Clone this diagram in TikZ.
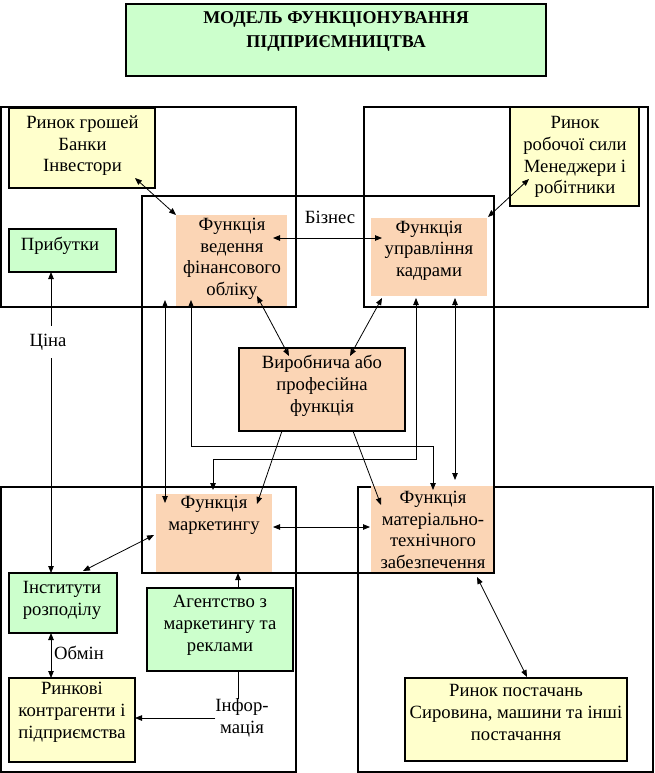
\documentclass[tikz,border=0pt]{standalone}
\usepackage{fontspec}
\setmainfont{Liberation Serif}
\usetikzlibrary{arrows.meta,calc}
\definecolor{peach}{RGB}{251,213,181}
\definecolor{lyellow}{RGB}{255,255,204}
\definecolor{lgreen}{RGB}{204,255,204}
\begin{document}
\begin{tikzpicture}[x=1pt,y=-1pt,
  every node/.style={inner sep=0pt, outer sep=0pt},
  txt/.style={align=center, font=\fontsize{18.67}{21.8}\selectfont},
  ybox/.style={draw=black, line width=1.1pt, fill=lyellow},
  gbox/.style={draw=black, line width=1.1pt, fill=lgreen},
  pbox/.style={fill=peach},
  pboxd/.style={draw=black, line width=1.1pt, fill=peach},
  frame/.style={draw=black, line width=1.2pt},
  arr/.style={line width=0.8pt, -{Triangle[length=7pt,width=5.5pt]}},
  darr/.style={line width=0.8pt, {Triangle[length=7pt,width=5.5pt]}-{Triangle[length=7pt,width=5.5pt]}},
]
\useasboundingbox[fill=white] (0,0) rectangle (655,773);

% title
\node[draw=black, line width=2.5pt, fill=lgreen, minimum width=420pt, minimum height=72pt] (title) at (336,40) {};
\node[align=center, font=\bfseries\fontsize{18}{23.5}\selectfont] (titlet) at (336,31.5) {МОДЕЛЬ ФУНКЦІОНУВАННЯ\\ПІДПРИЄМНИЦТВА};

% outer frames
\draw[frame] (1,107) rectangle (296,307);
\draw[frame] (364,107) rectangle (648,307);
\draw[frame] (1,487) rectangle (296,772);
\draw[frame] (358,487) rectangle (653,772);

% boxes
\node[ybox, minimum width=146pt, minimum height=80pt] (rg) at (82,148) {};
\node[txt] (rgt) at (82.5,145.7) {Ринок грошей\\Банки\\Інвестори};

\node[gbox, minimum width=107pt, minimum height=43pt] (prib) at (62.5,250.5) {};
\node[txt] (pribt) at (60,246) {Прибутки};

\node[pbox, minimum width=111pt, minimum height=91pt] (fin) at (231.5,260.5) {};
\node[txt] (fint) at (232,258.75) {Функція\\ведення\\фінансового\\обліку};

\node[ybox, minimum width=129pt, minimum height=99pt] (rrs) at (574.5,156.5) {};
\node[txt] (rrst) at (575,157) {Ринок\\робочої сили\\Менеджери і\\робітники};

\node[pbox, minimum width=116pt, minimum height=78pt] (kadry) at (429,257) {};
\node[txt] (kadryt) at (429,250.7) {Функція\\управління\\кадрами};

\node[pboxd, minimum width=166pt, minimum height=83pt] (vyr) at (322,389.5) {};
\node[txt] (vyrt) at (322,386) {Виробнича або\\професійна\\функція};

\node[pbox, minimum width=116pt, minimum height=79pt] (mark) at (214,533.5) {};
\node[txt] (markt) at (214,515.5) {Функція\\маркетингу};

\node[pbox, minimum width=123pt, minimum height=87pt] (mtz) at (432.5,529.5) {};
\node[txt] (mtzt) at (433,530) {Функція\\матеріально-\\технічного\\забезпечення};

\node[gbox, minimum width=108pt, minimum height=60pt] (inst) at (63,603) {};
\node[txt] (instt) at (62,600) {Інститути\\розподілу};

\node[gbox, minimum width=146pt, minimum height=83pt] (agent) at (220,629.5) {};
\node[txt] (agentt) at (220,625.5) {Агентство з\\маркетингу та\\реклами};

\node[ybox, minimum width=126pt, minimum height=84pt] (rk) at (72,720) {};
\node[txt] (rkt) at (72,712.5) {Ринкові\\контрагенти і\\підприємства};

\node[ybox, minimum width=222pt, minimum height=83pt] (rp) at (516,719.5) {};
\node[txt] (rpt) at (516,712.7) {Ринок постачань\\Сировина, машини та інші\\постачання};

% middle frame (business)
\draw[frame] (142,196) rectangle (494,573);

% labels
\node[txt] (biz) at (330,217) {Бізнес};
\node[txt] (obmin) at (79,653) {Обмін};
\node[txt] (info) at (242,718) {Інфор-\\мація};

% connectors
\draw[darr] ($(rg.south east)+(-20,-10)$) -- (fin.north west);
\draw[darr] ($(fin.east)+(-14,-22.5)$) -- ($(kadry.west)+(11,-19)$);
\draw[darr] ($(rrs.south west)+(19,-27)$) -- ($(kadry.north east)+(1,-1)$);
\draw[darr] ($(prib.south)+(-11.5,0)$) -- ($(inst.north)+(-12,0)$);
\draw[darr] ($(fin.south)+(25.5,-10)$) -- ($(vyr.north)+(-33,8)$);
\draw[darr] ($(kadry.south)+(-47,2)$) -- ($(vyr.north)+(28,8)$);
\draw[darr] ($(fin.south west)+(-11,-6)$) -- ($(mark.north west)+(9,9)$);
\draw[darr] ($(fin.south west)+(15,-6)$) -- ++(0,146) -| ($(mtz.north)+(0.5,4)$);
\draw[darr] ($(kadry.south)+(-13,2)$) -- ++(0,161) -| ($(mark.north)+(-1,-4)$);
\draw[darr] ($(kadry.south)+(26,2)$) -- ($(mtz.north)+(22.5,-6)$);
\draw[arr] ($(vyr.south)+(-40,0)$) -- ($(mark.north east)+(-15,10)$);
\draw[arr] ($(vyr.south)+(31,0)$) -- ($(mtz.north west)+(10,19)$);
\draw[darr] ($(mark.east)+(1,-6.5)$) -- ($(mtz.west)+(-1,-2.5)$);
\draw[darr] ($(mark.west)+(-2,1.5)$) -- ($(inst.north)+(20,-2)$);
\draw[darr] ($(inst.south)+(-12,0)$) -- ($(rk.north)+(-21,0)$);
\draw[arr] ($(agent.north)+(18,0)$) -- ($(mark.south)+(24,0)$);
\draw[line width=0.8pt] ($(agent.south)+(18,0)$) -- ($(info.north)+(-4,0)$);
\draw[arr] (info.west) -- (info.west -| rk.east);
\draw[darr] ($(mtz.south east)+(-17,4)$) -- ($(rp.north)+(11,-1)$);

\node[txt, fill=white, inner ysep=8pt, inner xsep=1pt] (tsina) at (48,342) {Ціна};
\end{tikzpicture}
\end{document}
